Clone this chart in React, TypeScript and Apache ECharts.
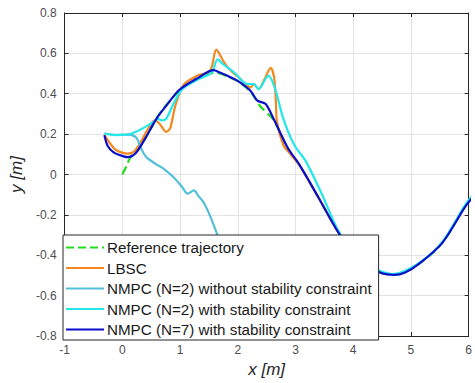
import React, { useEffect, useRef } from "react";
import * as echarts from "echarts";

const xTicks = [-1, 0, 1, 2, 3, 4, 5, 6];
const yTicks = [-0.8, -0.6, -0.4, -0.2, 0, 0.2, 0.4, 0.6, 0.8];

const seriesNames = [
  "Reference trajectory",
  "LBSC",
  "NMPC (N=2) without stability constraint",
  "NMPC (N=2) with stability constraint",
  "NMPC (N=7) with stability constraint",
];

const referenceTrajectory: [number, number][] = [
  [0, 0], [0.07, 0.04], [0.14, 0.085], [0.23, 0.11], [0.4, 0.18], [0.59, 0.276],
  [0.7, 0.322], [1.0, 0.418], [1.3, 0.475], [1.63, 0.504], [1.83, 0.484], [2.0, 0.461],
  [2.22, 0.41], [2.39, 0.338], [2.62, 0.27], [2.87, 0.128], [3.07, 0.046],
  [3.4, -0.115], [3.74, -0.286], [4.0, -0.39], [4.3, -0.46], [4.7, -0.497],
  [5.15, -0.44], [5.54, -0.34], [5.93, -0.16], [6.05, -0.11],
];

const lbsc: [number, number][] = [
  [-0.31, 0.195], [-0.2, 0.15], [-0.11, 0.121], [0.09, 0.103], [0.23, 0.121],
  [0.45, 0.227], [0.56, 0.268], [0.65, 0.25], [0.76, 0.211], [0.83, 0.23],
  [0.9, 0.32], [0.95, 0.37], [1.07, 0.447], [1.3, 0.49], [1.52, 0.513],
  [1.63, 0.619], [1.75, 0.562], [1.86, 0.52], [2.05, 0.472], [2.22, 0.431],
  [2.28, 0.448], [2.36, 0.423], [2.46, 0.47], [2.57, 0.528], [2.63, 0.48],
  [2.66, 0.36], [2.68, 0.26], [2.79, 0.146], [2.9, 0.105], [3.07, 0.045],
  [3.4, -0.115], [3.74, -0.286], [4.0, -0.39],
];

const nmpcN2Without: [number, number][] = [
  [-0.31, 0.203], [-0.11, 0.197], [0.09, 0.198], [0.17, 0.195], [0.25, 0.18],
  [0.31, 0.14], [0.36, 0.11], [0.42, 0.085], [0.59, 0.05], [0.7, 0.032],
  [0.87, -0.009], [1.04, -0.063], [1.13, -0.095], [1.24, -0.079], [1.32, -0.107],
  [1.41, -0.139], [1.52, -0.205], [1.63, -0.286], [1.75, -0.38], [1.85, -0.45],
];

const nmpcN2With: [number, number][] = [
  [-0.31, 0.203], [-0.11, 0.195], [0.09, 0.198], [0.23, 0.211], [0.4, 0.236],
  [0.54, 0.26], [0.62, 0.276], [0.68, 0.268], [0.76, 0.276], [0.9, 0.358],
  [1.04, 0.423], [1.32, 0.472], [1.55, 0.505], [1.65, 0.57], [1.75, 0.545],
  [1.94, 0.505], [2.17, 0.448], [2.28, 0.448], [2.36, 0.423], [2.53, 0.49],
  [2.64, 0.431], [2.79, 0.276], [2.98, 0.146], [3.18, 0.065], [3.46, -0.099],
  [3.74, -0.278], [4.0, -0.385], [4.3, -0.455], [4.7, -0.493], [5.15, -0.437],
  [5.54, -0.335], [5.93, -0.155], [6.05, -0.11],
];

const nmpcN7With: [number, number][] = [
  [-0.31, 0.195], [-0.25, 0.14], [-0.15, 0.11], [-0.05, 0.097], [0.09, 0.086],
  [0.23, 0.105], [0.4, 0.18], [0.59, 0.276], [0.76, 0.34], [0.99, 0.42],
  [1.32, 0.48], [1.58, 0.517], [1.69, 0.505], [1.83, 0.488], [2.0, 0.464],
  [2.22, 0.415], [2.34, 0.366], [2.48, 0.35], [2.62, 0.276], [2.87, 0.13],
  [3.07, 0.048], [3.4, -0.115], [3.74, -0.286], [4.0, -0.39], [4.3, -0.46],
  [4.5, -0.49], [4.7, -0.497], [4.9, -0.485], [5.15, -0.44], [5.54, -0.34],
  [5.93, -0.164], [6.05, -0.12],
];

const seriesData = [referenceTrajectory, lbsc, nmpcN2Without, nmpcN2With, nmpcN7With];
const seriesColors = ["#22dd22", "#f5871f", "#52c0d8", "#22e8ea", "#0a0fcc"];
const seriesDash = ["dashed", "solid", "solid", "solid", "solid"];

const FONT = "'Liberation Sans', Arial, Helvetica, sans-serif";

export default function App() {
  const ref = useRef<HTMLDivElement>(null);
  useEffect(() => {
    if (!ref.current) return;
    const chart = echarts.init(ref.current, null, { renderer: "svg" });
    const axisLine = { show: true, onZero: false, lineStyle: { color: "#262626", width: 1 } };
    const axisTick = { show: true, inside: true, length: 4, lineStyle: { color: "#262626" } };
    const splitLine = { show: true, lineStyle: { color: "#e3e3e3", width: 1 } };
    const label = { color: "#4d4d4d", fontSize: 12, fontFamily: FONT };
    chart.setOption({
      animation: false,
      backgroundColor: "#ffffff",
      grid: { left: 62, right: -2, top: 13, bottom: 43, containLabel: false },
      xAxis: [
        {
          type: "value",
          min: xTicks[0],
          max: xTicks[xTicks.length - 1],
          interval: 1,
          position: "bottom",
          axisLine,
          axisTick,
          splitLine,
          axisLabel: { ...label, margin: 8 },
          name: "x [m]",
          nameLocation: "middle",
          nameGap: 25,
          nameTextStyle: { fontSize: 17, fontStyle: "italic", color: "#262626", fontFamily: FONT },
        },
        {
          type: "value",
          min: xTicks[0],
          max: xTicks[xTicks.length - 1],
          interval: 1,
          position: "top",
          axisLine,
          axisTick,
          splitLine: { show: false },
          axisLabel: { show: false },
        },
      ],
      yAxis: [
        {
          type: "value",
          min: yTicks[0],
          max: yTicks[yTicks.length - 1],
          interval: 0.2,
          position: "left",
          axisLine,
          axisTick,
          splitLine,
          axisLabel: { ...label, margin: 8, formatter: (v: number) => String(Math.round(v * 10) / 10) },
          name: "y [m]",
          nameLocation: "middle",
          nameGap: 31,
          nameRotate: 90,
          nameTextStyle: { fontSize: 17, fontStyle: "italic", color: "#262626", fontFamily: FONT },
        },
        {
          type: "value",
          min: yTicks[0],
          max: yTicks[yTicks.length - 1],
          interval: 0.2,
          position: "right",
          axisLine,
          axisTick,
          splitLine: { show: false },
          axisLabel: { show: false },
        },
      ],
      legend: {
        orient: "vertical",
        left: 63,
        top: 235,
        z: 10,
        data: seriesNames,
        itemWidth: 38,
        itemHeight: 15,
        itemGap: 5.5,
        padding: [5, 7, 3, 2],
        backgroundColor: "#ffffff",
        borderColor: "#262626",
        borderWidth: 1,
        borderRadius: 0,
        itemStyle: { opacity: 0 },
        textStyle: { fontSize: 15.2, color: "#1a1a1a", fontFamily: FONT, lineHeight: 15, padding: [0, 0, 0, -2] },
      },
      series: seriesNames.map((name, i) => ({
        name,
        type: "line",
        data: seriesData[i],
        showSymbol: false,
        symbol: "none",
        smooth: 0.3,
        z: 2 + i * 0.1,
        itemStyle: { color: seriesColors[i] },
        lineStyle: {
          color: seriesColors[i],
          width: 2.2,
          type: seriesDash[i],
        },
        emphasis: { disabled: true },
      })),
    });
    return () => chart.dispose();
  }, []);
  return (
    <div
      ref={ref}
      style={{ position: "fixed", left: 0, top: 0, width: 475, height: 383, background: "#fff" }}
    />
  );
}
